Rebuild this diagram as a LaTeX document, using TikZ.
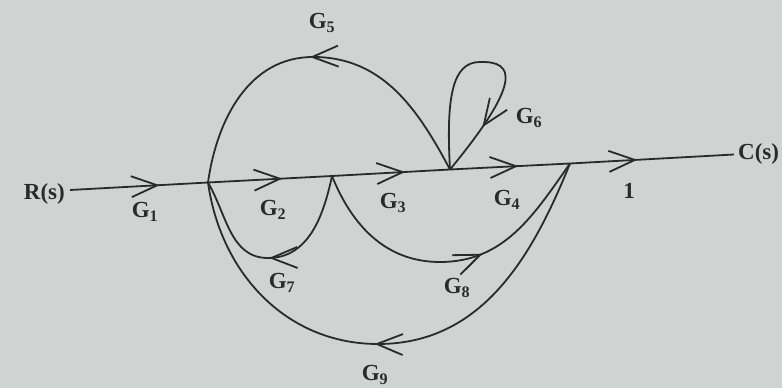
\documentclass[tikz,border=0pt]{standalone}
\usepackage{fontspec}
\setmainfont{Liberation Serif}
\usetikzlibrary{arrows.meta,decorations.markings}
\definecolor{ink}{HTML}{2A2A2A}
\definecolor{paper}{HTML}{CFD4D2}
\tikzset{
  junction/.style={inner sep=0pt, minimum size=0pt},
  gain/.style={font=\bfseries\fontsize{23}{26}\selectfont, text=ink, inner sep=1pt},
  branch/.style={line width=1.8pt, draw=ink},
  midarrow/.style={postaction={decorate}, decoration={markings,
    mark=at position #1 with {\arrow[line width=1.8pt, ink]{Straight Barb[length=26pt,width=21pt]}}}}
}
\newcommand{\gainlabel}[1]{G\textsubscript{#1}}

\begin{document}
\begin{tikzpicture}[x=1pt, y=1pt]
  \fill[paper] (0,0) rectangle (782,388);
  \useasboundingbox (0,0) rectangle (782,388);

  % nodes of the forward path
  \node[junction] (n1) at (70,198) {};
  \node[junction] (n2) at (208,205.5) {};
  \node[junction] (n3) at (332,212) {};
  \node[junction] (n4) at (450,218.5) {};
  \node[junction] (n5) at (570,224.5) {};
  \node[junction] (n6) at (734,233.5) {};
  \node[gain, anchor=east] (rs) at (66,194) {R(s)};
  \node[gain, anchor=west] (cs) at (737,234) {C(s)};

  % turning points of the curved branches
  \coordinate (g5top) at (313,331);
  \coordinate (g6top) at (480,326);
  \coordinate (g7low) at (268,130);
  \coordinate (g8low) at (440,126);
  \coordinate (g9low) at (378,44);

  % forward path
  \draw[branch, midarrow=0.65] (n1) -- (n2);
  \draw[branch, midarrow=0.6] (n2) -- (n3);
  \draw[branch, midarrow=0.62] (n3) -- (n4);
  \draw[branch, midarrow=0.57] (n4) -- (n5);
  \draw[branch, midarrow=0.41] (n5) -- (n6);

  % feedback and feedforward branches
  \draw[branch, midarrow=0.52] (n4) to[out=118,in=0] (g5top) to[out=180,in=82] (n2);
  \draw[branch, midarrow=0.8] (n4) .. controls (446,290) and (452,326) .. (g6top)
    .. controls (515,327) and (522,306) .. (n4);
  \draw[branch, midarrow=0.52] (n3) to[out=-102,in=0] (g7low) to[out=180,in=-60] (n2);
  \draw[branch, midarrow=0.6] (n3) to[out=-68,in=180] (g8low) to[out=0,in=-125] (n5);
  \draw[branch, midarrow=0.53] (n5) to[out=-112,in=0] (g9low) to[out=180,in=-82] (n2);

  % gains
  \node[gain] (lg1) at (145,176) {\gainlabel{1}};
  \node[gain] (lg2) at (273,178) {\gainlabel{2}};
  \node[gain] (lg3) at (393,185) {\gainlabel{3}};
  \node[gain] (lg4) at (507,188) {\gainlabel{4}};
  \node[gain] (lone) at (629,197) {1};
  \node[gain] (lg5) at (322,365) {\gainlabel{5}};
  \node[gain] (lg6) at (529,270) {\gainlabel{6}};
  \node[gain] (lg7) at (282,105) {\gainlabel{7}};
  \node[gain] (lg8) at (457,100) {\gainlabel{8}};
  \node[gain] (lg9) at (375,13) {\gainlabel{9}};
\end{tikzpicture}
\end{document}
